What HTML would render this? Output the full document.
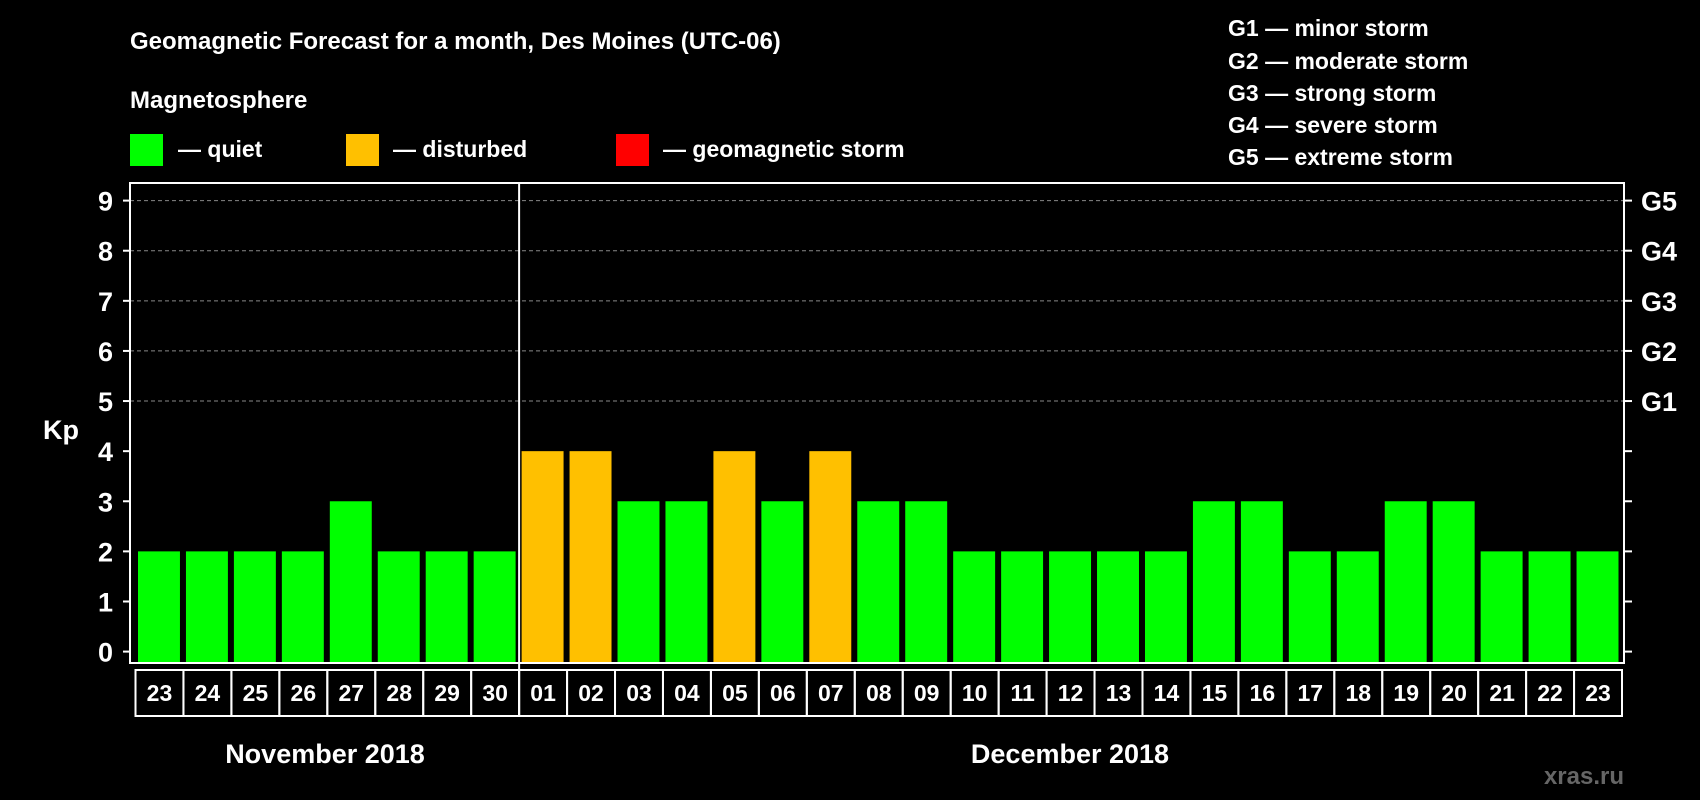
<!DOCTYPE html>
<html><head><meta charset="utf-8"><style>
html,body{margin:0;padding:0;background:#000;}
svg{display:block;font-family:"Liberation Sans",Arial,sans-serif;font-weight:bold;}
</style></head><body>
<svg id="c" width="1700" height="800" viewBox="0 0 1700 800">
<rect width="1700" height="800" fill="#000"/>
<text x="130" y="49" font-size="24" fill="#fff">Geomagnetic Forecast for a month, Des Moines (UTC-06)</text>
<text x="130" y="108" font-size="24" fill="#fff">Magnetosphere</text>
<g><rect x="130" y="134" width="33" height="32" fill="#00ff00"/><text x="178" y="157" font-size="23" fill="#fff">— quiet</text></g>
<g><rect x="346" y="134" width="33" height="32" fill="#ffc000"/><text x="393" y="157" font-size="23" fill="#fff">— disturbed</text></g>
<g><rect x="616" y="134" width="33" height="32" fill="#ff0000"/><text x="663" y="157" font-size="23" fill="#fff">— geomagnetic storm</text></g>
<g font-size="23" fill="#fff">
<text x="1228" y="36">G1 — minor storm</text>
<text x="1228" y="69">G2 — moderate storm</text>
<text x="1228" y="101">G3 — strong storm</text>
<text x="1228" y="133">G4 — severe storm</text>
<text x="1228" y="165">G5 — extreme storm</text>
</g>
<text x="43" y="439" font-size="27" fill="#fff">Kp</text>
<g id="plot"></g>
<text x="325" y="763" font-size="27" fill="#fff" text-anchor="middle">November 2018</text>
<text x="1070" y="763" font-size="27" fill="#fff" text-anchor="middle">December 2018</text>
<text x="1624" y="784" font-size="24" fill="#666" text-anchor="end">xras.ru</text>
</svg>
<script>
const days=["23","24","25","26","27","28","29","30","01","02","03","04","05","06","07","08","09","10","11","12","13","14","15","16","17","18","19","20","21","22","23"];
const kp=[2,2,2,2,3,2,2,2,4,4,3,3,4,3,4,3,3,2,2,2,2,2,3,3,2,2,3,3,2,2,2];
const yTicks=[0,1,2,3,4,5,6,7,8,9];
const gLabels=["G1","G2","G3","G4","G5"];
const gLevels=[5,6,7,8,9];
const NS="http://www.w3.org/2000/svg";
const g=document.getElementById('plot');
const L=130,R=1624,T=183,B=663,colL=135.5,colW=(1622-135.5)/31;
const y=v=>651.6-v*(651.6-200.6)/9;
const x=i=>colL+i*colW;
function mk(t,a){const e=document.createElementNS(NS,t);for(const k in a)e.setAttribute(k,a[k]);g.appendChild(e);return e;}
yTicks.forEach(v=>{
  if(v>=5){const l=mk('line',{x1:L,x2:R,y1:y(v),y2:y(v),stroke:'#888','stroke-dasharray':'4 3','stroke-width':1});
  
  }
  const t1=mk('line',{x1:L-7,x2:L,y1:y(v),y2:y(v),stroke:'#fff','stroke-width':2});
  
  
  const t2=mk('line',{x1:R,x2:R+8,y1:y(v),y2:y(v),stroke:'#fff','stroke-width':2});
  
  
  const tx=mk('text',{x:113,y:y(v)+10,'font-size':27,fill:'#fff','text-anchor':'end'});tx.textContent=v;
  
  
});
gLabels.forEach((s,i)=>{const t=mk('text',{x:1641,y:y(gLevels[i])+10,'font-size':27,fill:'#fff'});t.textContent=s;
  
  });
kp.forEach((v,i)=>{
  const b=mk('rect',{x:x(i)+2.5,y:y(v),width:colW-6,height:B-y(v),fill:v>=5?'#ff0000':(v>=4?'#ffc000':'#00ff00')});
  
  
});
days.forEach((d,i)=>{
  const r=mk('rect',{x:x(i),y:670,width:colW,height:46,fill:'none',stroke:'#fff','stroke-width':2});
  
  
  const t=mk('text',{x:x(i)+colW/2,y:701,'font-size':23,fill:'#fff','text-anchor':'middle'});t.textContent=d;
  
  
});
const sep=mk('line',{x1:x(8),x2:x(8),y1:T,y2:716,stroke:'#fff','stroke-width':2});


const fr=mk('rect',{x:L,y:T,width:R-L,height:B-T,fill:'none',stroke:'#fff','stroke-width':2});


</script>
</body></html>
